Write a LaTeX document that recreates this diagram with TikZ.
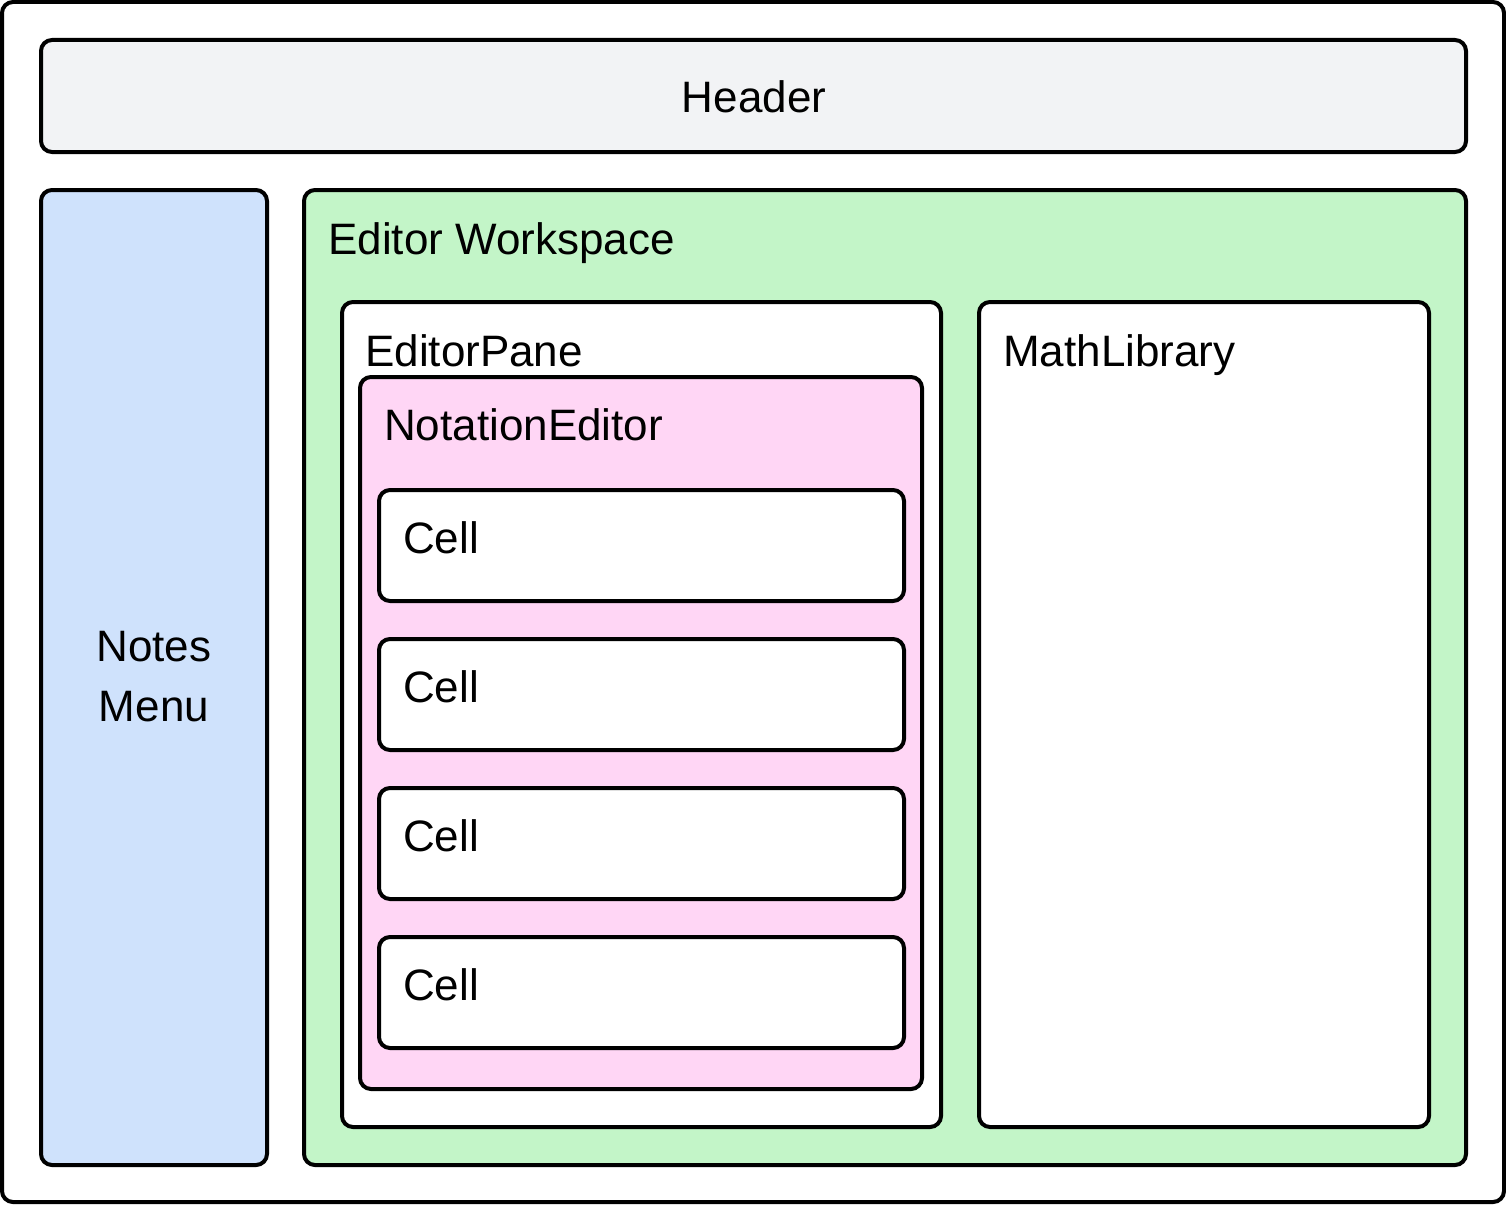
\documentclass[tikz,border=0pt]{standalone}
\usepackage{fontspec}
\setmainfont{Liberation Sans}
\definecolor{hdrfill}{HTML}{F2F3F5}
\definecolor{menufill}{HTML}{CFE2FC}
\definecolor{wsfill}{HTML}{C3F5C8}
\definecolor{notefill}{HTML}{FFD6F5}
\tikzset{
  panel/.style={draw=black, line width=4pt, rounded corners=11pt, rectangle, anchor=north west, inner sep=0pt, outer sep=0pt},
  lbl/.style={anchor=base west, inner sep=0pt, font=\fontsize{44}{60}\selectfont},
}
\newcommand{\panelbox}[6]{% name, fill, x1, y1, x2, y2
  \node[panel, fill=#2, minimum width={(#5-#3)*1pt}, minimum height={(#6-#4)*1pt}] (#1) at (#3,#4) {};
}
\begin{document}
\begin{tikzpicture}[x=1pt,y=-1pt]
\useasboundingbox (0,0) rectangle (1506,1204);
\panelbox{outer}{white}{2}{2}{1504}{1202}
\panelbox{header}{hdrfill}{41}{40}{1466}{152}
\node[font=\fontsize{44}{60}\selectfont, inner sep=0pt, anchor=base] (headertxt) at (754,113) {Header};
\panelbox{menu}{menufill}{41}{190}{267}{1165}
\node[font=\fontsize{44}{60}\selectfont, inner sep=0pt, anchor=base] (menutxt1) at (154,661) {Notes};
\node[font=\fontsize{44}{60}\selectfont, inner sep=0pt, anchor=base] (menutxt2) at (154,721) {Menu};
\panelbox{ws}{wsfill}{304}{190}{1466}{1165}
\node[lbl] (wstxt) at (328,254) {Editor Workspace};
\panelbox{pane}{white}{342}{302}{941}{1127}
\node[lbl] (panetxt) at (365,366) {EditorPane};
\panelbox{notation}{notefill}{360}{377}{922}{1089}
\node[lbl] (notetxt) at (384,440) {NotationEditor};
\panelbox{cellA}{white}{379}{490}{904}{601}
\node[lbl] (cellAtxt) at (403,553) {Cell};
\panelbox{cellB}{white}{379}{639}{904}{750}
\node[lbl] (cellBtxt) at (403,702) {Cell};
\panelbox{cellC}{white}{379}{788}{904}{899}
\node[lbl] (cellCtxt) at (403,851) {Cell};
\panelbox{cellD}{white}{379}{937}{904}{1048}
\node[lbl] (cellDtxt) at (403,1000) {Cell};
\panelbox{math}{white}{979}{302}{1429}{1127}
\node[lbl] (mathtxt) at (1003,366) {MathLibrary};
\end{tikzpicture}
\end{document}
